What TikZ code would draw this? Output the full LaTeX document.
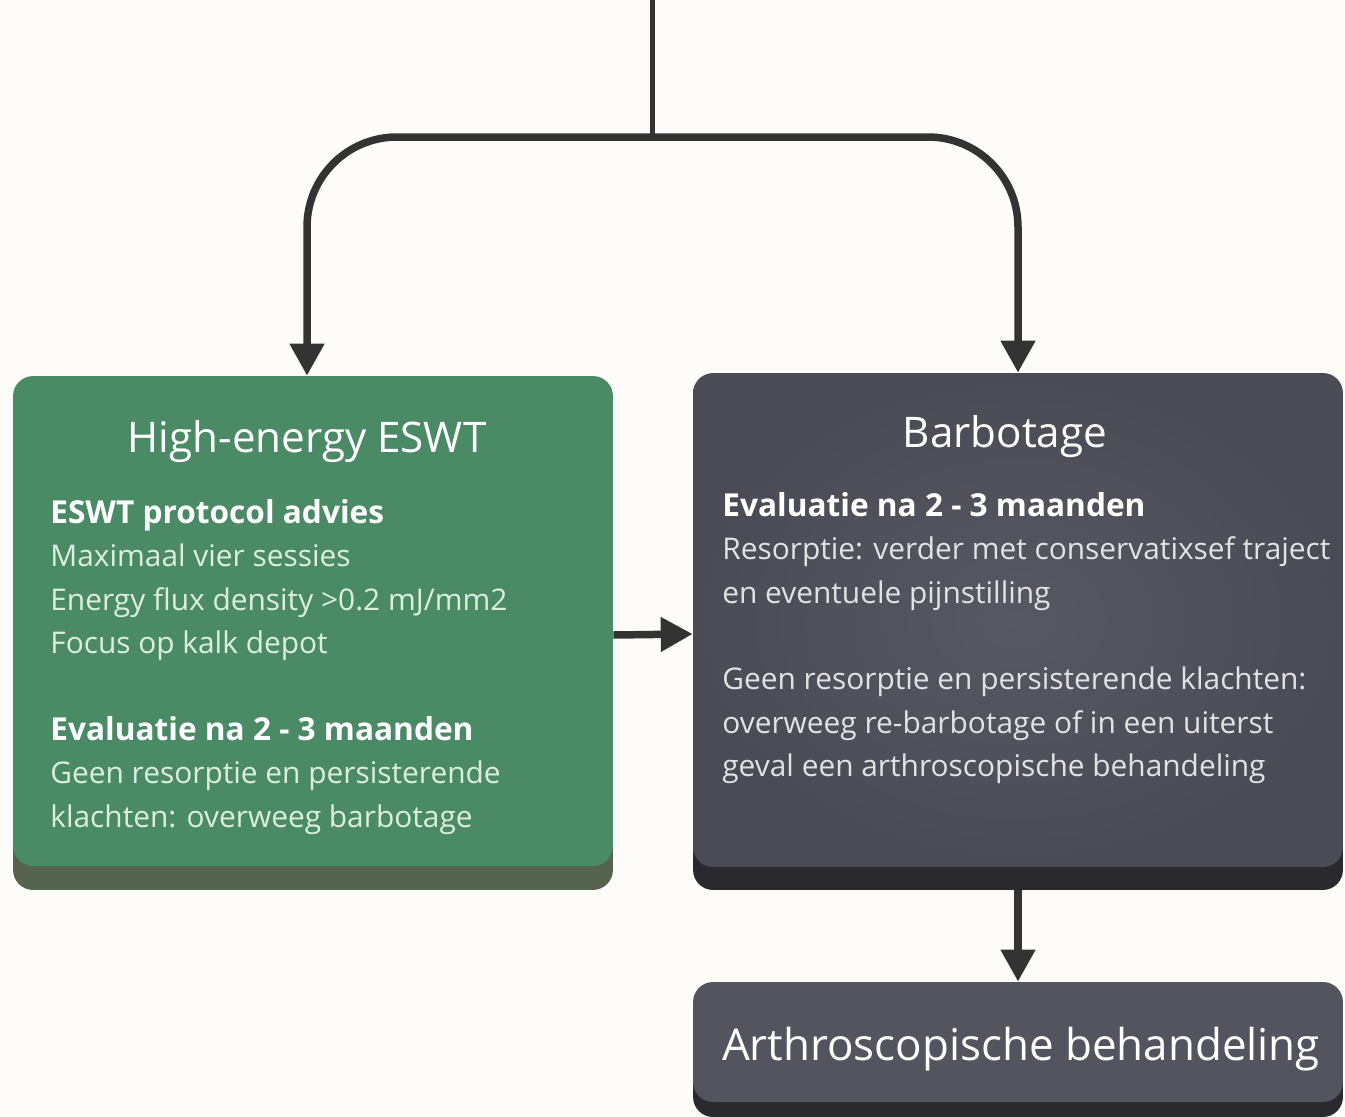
\documentclass[tikz,border=0pt]{standalone}
\usepackage{fontspec}
\setmainfont{Open Sans}
\usepackage{tikz}
\usetikzlibrary{arrows.meta,shadows,positioning}
\definecolor{bgpaper}{HTML}{FDFCF8}
\definecolor{eswtgreen}{HTML}{4A8B65}
\definecolor{eswtedge}{HTML}{56644F}
\definecolor{slateface}{HTML}{4A4B54}
\definecolor{slatehi}{HTML}{575862}
\definecolor{slateedge}{HTML}{2A2A2E}
\definecolor{linkgrey}{HTML}{333333}
\definecolor{greentext}{HTML}{DCEFDF}
\definecolor{slatetext}{HTML}{E2E2E5}

\begin{document}
\begin{tikzpicture}[x=0.02cm,y=-0.02cm,>={Triangle[length=0.64cm,width=0.66cm]}]
\tikzstyle{box} = [rectangle, rounded corners=0.4cm, inner sep=0pt]
\tikzstyle{eswtbox} = [box, fill=eswtgreen, minimum width=12cm, minimum height=9.8cm,
drop shadow={shadow xshift=0cm, shadow yshift=-0.48cm, fill=eswtedge, opacity=1}]
\tikzstyle{slatebox} = [box, inner color=slatehi, outer color=slateface, minimum width=13cm,
drop shadow={shadow xshift=0cm, shadow yshift=-0.46cm, fill=slateedge, opacity=1}]
\tikzstyle{flatbox} = [box, fill=slateface!95!white, minimum width=13cm,
drop shadow={shadow xshift=0cm, shadow yshift=-0.3cm, fill=slateedge, opacity=1}]
\tikzstyle{head} = [text=white, inner sep=0pt, anchor=base, font=\fontsize{24}{28}\selectfont]
\tikzstyle{body} = [align=left, inner sep=0pt, anchor=north west, font=\fontsize{17}{24.7}\selectfont]
\tikzstyle{link} = [draw=linkgrey, line width=0.15cm, ->]
\newcommand{\subhead}[1]{\textcolor{white}{\fontsize{18}{24.7}\selectfont\bfseries #1}}

% frame
\path[fill=bgpaper] (0,0) rectangle (1345,1116);
\useasboundingbox (0,0) rectangle (1345,1116);

% boxes
\node (eswt) [eswtbox] at (313,621) {};
\node (barb) [slatebox, minimum height=9.88cm] at (1018,620) {};
\node (arthro) [flatbox, minimum height=2.4cm] at (1018,1042) {};

% texts
\node (eswthead) [head] at (307,452) {High-energy ESWT};
\node (eswtbody) [body, text=greentext] at (50,499)
{\subhead{ESWT protocol advies}\\
Maximaal vier sessies\\
Energy flux density >0.2 mJ/mm2\\
Focus op kalk depot\\[24.7pt]
\subhead{Evaluatie na 2 - 3 maanden}\\
Geen resorptie en persisterende\\
klachten: overweeg barbotage};
\node (barbhead) [head] at (1005,447) {Barbotage};
\node (barbbody) [body, text=slatetext] at (722,492)
{\subhead{Evaluatie na 2 - 3 maanden}\\
Resorptie: verder met conservatixsef traject\\
en eventuele pijnstilling\\[24.7pt]
Geen resorptie en persisterende klachten:\\
overweeg re-barbotage of in een uiterst\\
geval een arthroscopische behandeling};
\node (arthrohead) [head, font=\fontsize{25}{30}\selectfont] at (1021,1060) {Arthroscopische behandeling};

% connectors
\coordinate (top) at (652,0);
\coordinate (split) at (652,137);
\draw[draw=linkgrey, line width=0.1cm] (top) -- (split);
\draw[link, rounded corners=1.8cm] (split) -| ([xshift=-0.12cm]eswt.north);
\draw[link, rounded corners=1.8cm] (split) -| (barb.north);
\draw[link] ([yshift=-0.28cm]eswt.east) -- ([yshift=-0.28cm]barb.west);
\draw[link, shorten <=0.46cm] (barb.south) -- (arthro.north);
\end{tikzpicture}
\end{document}
